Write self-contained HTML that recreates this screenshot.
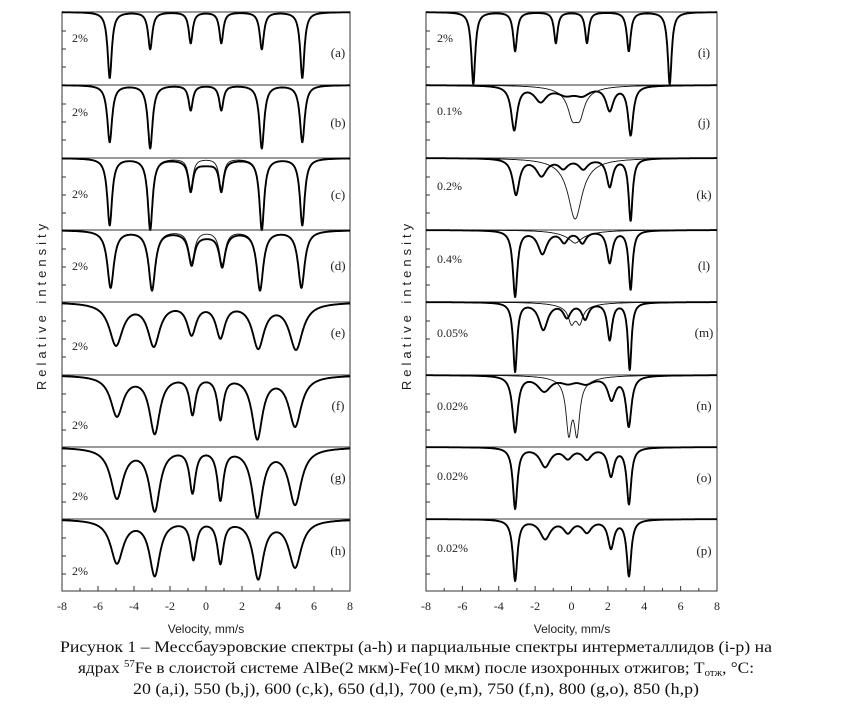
<!DOCTYPE html>
<html><head><meta charset="utf-8">
<style>
html,body{margin:0;padding:0;background:#fff;}
svg{display:block;}
</style></head>
<body>
<svg id="fig" width="844" height="707" viewBox="0 0 844 707" xmlns="http://www.w3.org/2000/svg">
<g id="plots"></g>
<text x="0" y="0" transform="translate(46,305) rotate(-90)" text-anchor="middle" font-family="Liberation Sans, sans-serif" font-size="13" letter-spacing="4" fill="#222">Relative intensity</text>
<text x="0" y="0" transform="translate(411,305) rotate(-90)" text-anchor="middle" font-family="Liberation Sans, sans-serif" font-size="13" letter-spacing="4" fill="#222">Relative intensity</text>
<text x="206" y="633" text-anchor="middle" font-family="Liberation Sans, sans-serif" font-size="12" fill="#222">Velocity, mm/s</text>
<text x="572" y="633" text-anchor="middle" font-family="Liberation Sans, sans-serif" font-size="12" fill="#222">Velocity, mm/s</text>
<g font-family="Liberation Serif, serif" font-size="16" fill="#111" text-anchor="middle">
<text x="416" y="652" textLength="712" lengthAdjust="spacingAndGlyphs">Рисунок 1 – Мессбауэровские спектры (a-h) и парциальные спектры интерметаллидов (i-p) на</text>
<text x="416" y="673" textLength="676" lengthAdjust="spacingAndGlyphs">ядрах <tspan font-size="10" dy="-6">57</tspan><tspan dy="6">Fe в слоистой системе AlBe(2 мкм)-Fe(10 мкм) после изохронных отжигов; T</tspan><tspan font-size="10" dy="3">отж</tspan><tspan dy="-3">, °C:</tspan></text>
<text x="416" y="694" textLength="566" lengthAdjust="spacingAndGlyphs">20 (a,i), 550 (b,j), 600 (c,k), 650 (d,l), 700 (e,m), 750 (f,n), 800 (g,o), 850 (h,p)</text>
</g>
</svg>
<script>
// ---- data ----
const velocityTicks = [-8,-6,-4,-2,0,2,4,6,8];
const leftLetters = ["(a)","(b)","(c)","(d)","(e)","(f)","(g)","(h)"];
const rightLetters = ["(i)","(j)","(k)","(l)","(m)","(n)","(o)","(p)"];
const leftScaleLabels = ["2%","2%","2%","2%","2%","2%","2%","2%"];
const rightScaleLabels = ["2%","0.1%","0.2%","0.4%","0.05%","0.02%","0.02%","0.02%"];
// each line: [position mm/s, depth, half-width]
const leftSpectra = [
 [[-5.35,66,0.14],[-3.1,37,0.14],[-0.85,31,0.13],[0.85,31,0.13],[3.1,37,0.14],[5.35,66,0.14]],
 [[-5.35,57,0.16],[-3.1,63,0.16],[-0.85,25,0.14],[0.85,25,0.14],[3.1,63,0.16],[5.35,57,0.16]],
 [[-5.35,67,0.16],[-3.1,71,0.16],[-0.85,30,0.15],[0.85,30,0.15],[3.1,71,0.16],[5.35,67,0.16],[0.0,6,1.0]],
 [[-5.3,57,0.22],[-3.0,59,0.22],[-0.8,31,0.2],[0.9,33,0.2],[3.0,59,0.22],[5.3,57,0.22],[0.0,5,1.2]],
 [[-5.0,42,0.45],[-2.9,42,0.4],[-0.8,30,0.3],[0.8,33,0.3],[2.9,44,0.4],[5.0,46,0.45]],
 [[-4.95,40,0.42],[-2.85,57,0.35],[-0.75,37,0.2],[0.8,42,0.2],[2.85,62,0.35],[4.95,50,0.42]],
 [[-4.95,50,0.42],[-2.85,62,0.35],[-0.75,43,0.2],[0.8,50,0.2],[2.85,68,0.35],[4.95,56,0.42]],
 [[-4.95,43,0.42],[-2.85,55,0.35],[-0.7,38,0.2],[0.8,42,0.2],[2.9,58,0.35],[4.95,47,0.42]]
];
const leftFits = [
 null, null,
 [[-5.35,67,0.16],[-3.1,71,0.16],[-0.85,30,0.15],[0.85,30,0.15],[3.1,71,0.16],[5.35,67,0.16]],
 [[-5.3,57,0.22],[-3.0,59,0.22],[-0.8,31,0.2],[0.9,33,0.2],[3.0,59,0.22],[5.3,57,0.22]],
 null, null, null,
 [[-4.95,43,0.42],[-2.85,55,0.35],[-0.7,38,0.2],[0.8,40,0.2],[2.9,58,0.35],[4.95,47,0.42]]
];
const rightSpectra = [
 [[-5.4,72,0.13],[-3.1,39,0.13],[-0.86,31,0.12],[0.85,31,0.12],[3.15,39,0.13],[5.4,72,0.13]],
 [[-3.15,44,0.2],[-1.7,15,0.4],[-0.3,8,0.6],[0.6,8,0.5],[2.1,24,0.25],[3.25,49,0.17]],
 [[-3.05,36,0.22],[-1.65,17,0.35],[-0.45,9,0.3],[0.65,10,0.3],[2.1,28,0.2],[3.25,62,0.13]],
 [[-3.1,66,0.15],[-1.6,23,0.3],[-0.4,11,0.25],[0.6,12,0.25],[2.1,32,0.18],[3.25,59,0.13]],
 [[-3.1,69,0.13],[-1.55,27,0.3],[-0.25,14,0.25],[0.75,16,0.22],[2.1,37,0.16],[3.2,67,0.12]],
 [[-3.1,56,0.18],[-1.5,15,0.45],[-0.2,6,0.5],[0.8,7,0.5],[2.2,23,0.25],[3.15,50,0.18]],
 [[-3.1,61,0.15],[-1.45,19,0.35],[-0.2,10,0.3],[0.85,11,0.3],[2.17,28,0.2],[3.16,56,0.15]],
 [[-3.1,61,0.15],[-1.45,19,0.35],[-0.2,12,0.3],[0.85,12,0.3],[2.17,28,0.2],[3.16,56,0.15]]
];
const rightComponents = [
 null,
 [[0.2,7,1.1],[0.05,22,0.3],[0.45,22,0.3]],
 [[0.2,6,1.1],[0.2,55,0.45]],
 [[0.2,6,1.0],[0.2,7,0.35]],
 [[0.2,6,1.0],[0.0,15,0.2],[0.45,15,0.2]],
 [[0.2,6,1.1],[-0.15,50,0.18],[0.3,50,0.18]],
 null, null
];

// ---- layout ----
const NS = "http://www.w3.org/2000/svg";
const panelTops = [12,85,158,230,302,375,447,519];
const bottomY = 591;
const frames = [
 {x0:62,x1:350,spectra:leftSpectra,fits:leftFits,letters:leftLetters,scales:leftScaleLabels,name:"left",lblX:72,letX:338,
  scaleY:[42,116,198,270,350,429,500,575],letY:[57,127,199,270,337,410,482,555]},
 {x0:426,x1:717,spectra:rightSpectra,fits:rightComponents,letters:rightLetters,scales:rightScaleLabels,name:"right",lblX:437,letX:704,
  scaleY:[42,115,190,263,337,410,480,552],letY:[57,127,199,270,337,410,482,555]}
];
const root = document.getElementById('plots');
function mk(tag, attrs){const e=document.createElementNS(NS,tag);for(const k in attrs)e.setAttribute(k,attrs[k]);return e;}
function absorb(lines,v){let s=0;for(const l of lines){const d=(v-l[0])/l[2];s+=l[1]/(1+d*d);}return s;}

frames.forEach(f=>{
  const xS = v => f.x0 + (v+8)/16*(f.x1-f.x0);
  const g = mk('g',{});
  
  
  root.appendChild(g);
  const frame = mk('rect',{x:f.x0,y:12,width:f.x1-f.x0,height:bottomY-12,fill:'none',stroke:'#333','stroke-width':1});
  
  
  g.appendChild(frame);
  for(let v=-8;v<=8;v++){
    const major = v%2===0;
    const t = mk('line',{x1:xS(v),x2:xS(v),y1:bottomY,y2:bottomY-(major?5:3),stroke:'#333','stroke-width':1});
    
    
    g.appendChild(t);
  }
  velocityTicks.forEach(v=>{
    const tl = mk('text',{x:xS(v),y:610,'text-anchor':'middle','font-family':'Liberation Serif, serif','font-size':12,fill:'#222'});
    tl.textContent = String(v);
    
    
    g.appendChild(tl);
  });
  panelTops.forEach((top,i)=>{
    const h = (i<7?panelTops[i+1]:bottomY)-top;
    if(i>0){
      const sep = mk('line',{x1:f.x0,x2:f.x1,y1:top,y2:top,stroke:'#333','stroke-width':1});
      
      
      g.appendChild(sep);
    }
    [19,37,55].forEach(o=>{
      const t = mk('line',{x1:f.x0,x2:f.x0+4,y1:top+o,y2:top+o,stroke:'#333','stroke-width':1});
      
      
      g.appendChild(t);
    });
    const lines = f.spectra[i];
    const fit = f.fits[i];
    const curve = ls => {let d='';for(let v=-8;v<=8.0001;v+=0.02){const y=Math.min(top+absorb(ls,v),top+h+6);d+=(d?'L':'M')+xS(v).toFixed(1)+','+y.toFixed(1);}return d;};
    if(fit){
      const p2 = mk('path',{d:curve(fit),fill:'none',stroke:'#111','stroke-width':0.9});
      
      
      g.appendChild(p2);
    }
    const p = mk('path',{d:curve(lines),fill:'none',stroke:'#000','stroke-width':1.9,'stroke-linejoin':'round'});
    
    
    g.appendChild(p);
    const s = mk('text',{x:f.lblX,y:f.scaleY[i],'font-family':'Liberation Serif, serif','font-size':12,fill:'#222'});
    s.textContent = f.scales[i];
    
    
    g.appendChild(s);
    const L = mk('text',{x:f.letX,y:f.letY[i],'text-anchor':'middle','font-family':'Liberation Serif, serif','font-size':13,fill:'#222'});
    L.textContent = f.letters[i];
    
    
    g.appendChild(L);
  });
});
</script>
</body></html>
